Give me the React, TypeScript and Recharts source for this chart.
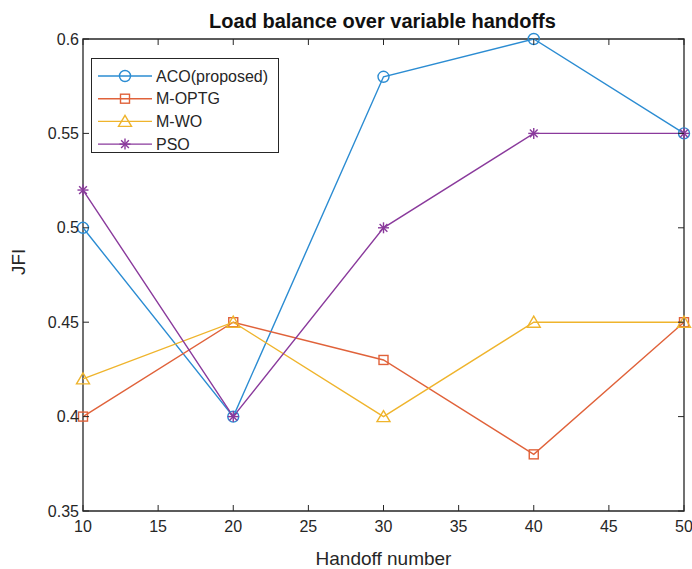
import { Legend, Line, LineChart, ReferenceArea, XAxis, YAxis } from 'recharts';

const HANDOFFS = [10, 20, 30, 40, 50];
const ACO = [0.5, 0.4, 0.58, 0.6, 0.55];
const M_OPTG = [0.4, 0.45, 0.43, 0.38, 0.45];
const M_WO = [0.42, 0.45, 0.4, 0.45, 0.45];
const PSO = [0.52, 0.4, 0.5, 0.55, 0.55];

const X_TICKS = [10, 15, 20, 25, 30, 35, 40, 45, 50];
const Y_TICKS = [0.35, 0.4, 0.45, 0.5, 0.55, 0.6];

const SERIES = [
  { key: 'aco', name: 'ACO(proposed)', color: '#2b8cd2', marker: 'circle' },
  { key: 'optg', name: 'M-OPTG', color: '#e0623a', marker: 'square' },
  { key: 'wo', name: 'M-WO', color: '#efb42c', marker: 'triangle' },
  { key: 'pso', name: 'PSO', color: '#8a3a9c', marker: 'star' },
];

const DATA = HANDOFFS.map((h, i) => ({
  handoff: h,
  aco: ACO[i],
  optg: M_OPTG[i],
  wo: M_WO[i],
  pso: PSO[i],
}));

const W = 692;
const H = 569;
const LEFT = 83;
const RIGHT = 684;
const TOP = 39;
const BOTTOM = 511;
const AXIS = '#262626';
const FONT = '"Liberation Sans", Arial, sans-serif';

function Marker({ type, cx, cy, color }: { type: string; cx: number; cy: number; color: string }) {
  const sw = 1.4;
  if (type === 'circle') {
    return <circle cx={cx} cy={cy} r={5.5} fill="none" stroke={color} strokeWidth={sw} />;
  }
  if (type === 'square') {
    return <rect x={cx - 4.5} y={cy - 4.5} width={9} height={9} fill="none" stroke={color} strokeWidth={sw} />;
  }
  if (type === 'triangle') {
    return (
      <polygon
        points={`${cx},${cy - 6} ${cx - 6.5},${cy + 5} ${cx + 6.5},${cy + 5}`}
        fill="none"
        stroke={color}
        strokeWidth={sw}
      />
    );
  }
  const r = 5.5;
  const d = r * 0.707;
  return (
    <g stroke={color} strokeWidth={sw}>
      <line x1={cx} y1={cy - r} x2={cx} y2={cy + r} />
      <line x1={cx - r} y1={cy} x2={cx + r} y2={cy} />
      <line x1={cx - d} y1={cy - d} x2={cx + d} y2={cy + d} />
      <line x1={cx - d} y1={cy + d} x2={cx + d} y2={cy - d} />
    </g>
  );
}

function fmt(v: number) {
  return String(Math.round(v * 100) / 100);
}

function BottomTick(props: any) {
  const { x, y, payload } = props;
  return (
    <g>
      <line x1={x} y1={BOTTOM} x2={x} y2={BOTTOM - 6} stroke={AXIS} strokeWidth={1} />
      <line x1={x} y1={TOP} x2={x} y2={TOP + 6} stroke={AXIS} strokeWidth={1} />
      <text x={x} y={y} dy="0.71em" textAnchor="middle" fill={AXIS} fontSize={16} fontFamily={FONT}>
        {payload.value}
      </text>
    </g>
  );
}

function LeftTick(props: any) {
  const { x, y, payload } = props;
  return (
    <g>
      <line x1={LEFT} y1={y} x2={LEFT + 6} y2={y} stroke={AXIS} strokeWidth={1} />
      <line x1={RIGHT} y1={y} x2={RIGHT - 6} y2={y} stroke={AXIS} strokeWidth={1} />
      <text x={x} y={y} dy="0.355em" textAnchor="end" fill={AXIS} fontSize={16} fontFamily={FONT}>
        {fmt(payload.value)}
      </text>
    </g>
  );
}

function LegendBox(props: any) {
  const items = props.payload || [];
  return (
    <svg width={188} height={95} style={{ display: 'block' }}>
      <rect x={0.5} y={0.5} width={187} height={94} fill="#fff" stroke={AXIS} strokeWidth={1} />
      {SERIES.map((s, i) => {
        const cy = 18 + i * 22.7;
        const item = items.find((p: any) => p.dataKey === s.key);
        return (
          <g key={s.key}>
            <line x1={7} y1={cy} x2={61} y2={cy} stroke={s.color} strokeWidth={1.4} />
            <Marker type={s.marker} cx={34} cy={cy} color={s.color} />
            <text x={65} y={cy} dy="0.355em" fill={AXIS} fontSize={16} fontFamily={FONT}>
              {item ? item.value : s.name}
            </text>
          </g>
        );
      })}
    </svg>
  );
}

export default function App() {
  return (
    <div style={{ position: 'absolute', left: 0, top: 0, width: W, height: H, background: '#fff' }}>
      <div
        style={{
          position: 'absolute',
          left: 0,
          width: RIGHT + LEFT - 2,
          top: 9,
          textAlign: 'center',
          fontFamily: FONT,
          fontWeight: 700,
          fontSize: 20,
          color: '#111',
          lineHeight: '24px',
          zIndex: 2,
        }}
      >
        Load balance over variable handoffs
      </div>
      <LineChart
        width={W}
        height={H}
        data={DATA}
        margin={{ top: TOP, right: W - RIGHT, bottom: 0, left: 0 }}
      >
        <XAxis
          dataKey="handoff"
          type="number"
          domain={[10, 50]}
          ticks={X_TICKS}
          height={H - BOTTOM}
          tickSize={0}
          tickMargin={10}
          tickLine={false}
          axisLine={false}
          tick={<BottomTick />}
          interval={0}
          label={{
            value: 'Handoff number',
            position: 'insideBottom',
            offset: 4,
            fill: AXIS,
            fontSize: 19,
            fontFamily: FONT,
          }}
        />
        <YAxis
          type="number"
          domain={[0.35, 0.6]}
          ticks={Y_TICKS}
          width={LEFT}
          tickSize={0}
          tickMargin={4}
          tickLine={false}
          axisLine={false}
          tick={<LeftTick />}
          interval={0}
          label={{
            value: 'JFI',
            angle: -90,
            position: 'insideLeft',
            offset: 18,
            fill: AXIS,
            fontSize: 19,
            fontFamily: FONT,
          }}
        />
        <ReferenceArea
          x1={10}
          x2={50}
          y1={0.35}
          y2={0.6}
          fill="none"
          stroke={AXIS}
          strokeWidth={1.3}
          ifOverflow="visible"
        />
        <Legend
          layout="vertical"
          verticalAlign="middle"
          align="center"
          content={<LegendBox />}
          wrapperStyle={{ position: 'absolute', left: 91, top: 58, width: 188, height: 95 }}
        />
        {SERIES.map((s) => (
          <Line
            key={s.key}
            dataKey={s.key}
            name={s.name}
            stroke={s.color}
            strokeWidth={1.4}
            isAnimationActive={false}
            dot={(p: any) => (
              <Marker key={`${s.key}-${p.index}`} type={s.marker} cx={p.cx} cy={p.cy} color={s.color} />
            )}
            activeDot={false}
          />
        ))}
      </LineChart>
    </div>
  );
}
